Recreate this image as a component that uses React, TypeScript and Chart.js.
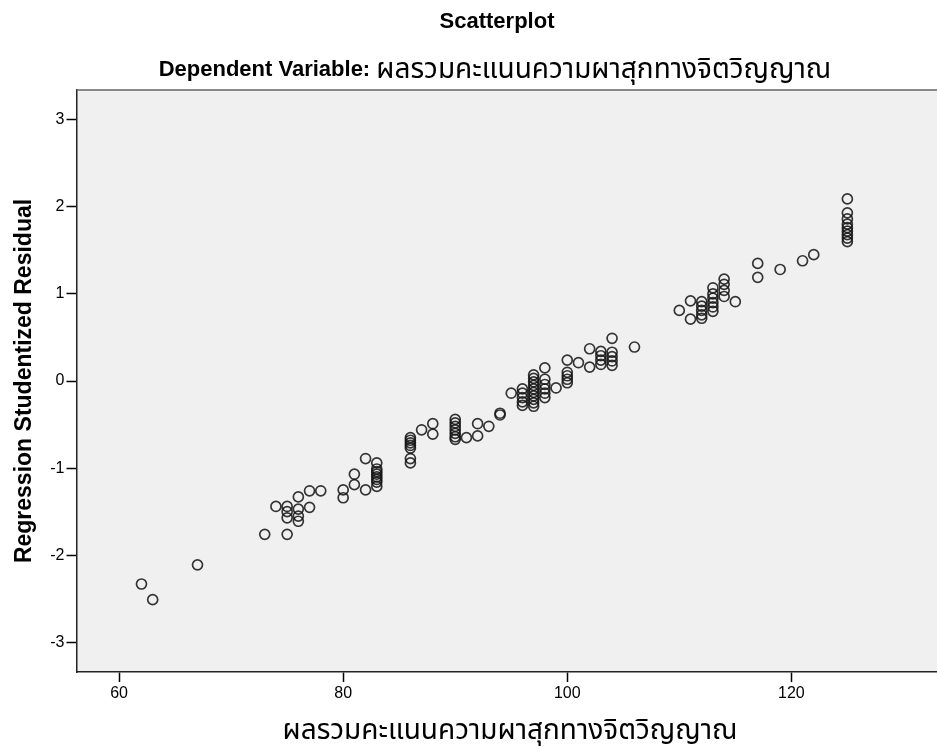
import React, { useEffect, useRef } from "react";
import { Chart, registerables } from "chart.js";

Chart.register(...registerables);

const chartTitle = "Scatterplot";
const subtitleLead = "Dependent Variable: ";
const dependentName = "ผลรวมคะแนนความผาสุกทางจิตวิญญาณ";
const yAxisTitle = "Regression Studentized Residual";
const xAxisTitle = "ผลรวมคะแนนความผาสุกทางจิตวิญญาณ";

const xTickValues = [60, 80, 100, 120];
const yTickValues = [-3, -2, -1, 0, 1, 2, 3];

// total score (x) and studentized residual (y), paired by index
const scoreValues = [
  62, 63, 67, 73, 74,
  75, 75, 75, 75,
  76, 76, 76, 76,
  77, 77, 78,
  80, 80, 81, 81, 82, 82,
  83, 83, 83, 83, 83, 83, 83, 83,
  86, 86, 86, 86, 86, 86, 86,
  87, 88, 88,
  90, 90, 90, 90, 90, 90, 90,
  91, 92, 92, 93, 94, 94, 95,
  96, 96, 96, 96, 96,
  97, 97, 97, 97, 97, 97, 97, 97, 97, 97,
  98, 98, 98, 98, 98, 98,
  99,
  100, 100, 100, 100, 100,
  101, 102, 102,
  103, 103, 103, 103,
  104, 104, 104, 104, 104,
  106, 110, 111, 111,
  112, 112, 112, 112, 112,
  113, 113, 113, 113, 113, 113,
  114, 114, 114, 114,
  115, 117, 117, 119, 121, 122,
  125, 125, 125, 125, 125, 125, 125, 125, 125,
];

const residualValues = [
  -2.33, -2.51, -2.11, -1.76, -1.44,
  -1.44, -1.5, -1.57, -1.76,
  -1.33, -1.47, -1.55, -1.61,
  -1.26, -1.45, -1.26,
  -1.25, -1.34, -1.07, -1.19, -0.89, -1.25,
  -0.94, -1.01, -1.04, -1.07, -1.1, -1.13, -1.16, -1.21,
  -0.65, -0.68, -0.71, -0.74, -0.77, -0.89, -0.94,
  -0.56, -0.49, -0.61,
  -0.44, -0.48, -0.52, -0.56, -0.6, -0.64, -0.67,
  -0.65, -0.49, -0.63, -0.52, -0.37, -0.39, -0.14,
  -0.09, -0.14, -0.19, -0.24, -0.28,
  0.07, 0.03, -0.01, -0.05, -0.09, -0.13, -0.17, -0.21, -0.25, -0.29,
  0.15, 0.02, -0.04, -0.09, -0.14, -0.19,
  -0.08,
  0.24, 0.1, 0.06, 0.02, -0.02,
  0.21, 0.37, 0.16,
  0.34, 0.29, 0.24, 0.19,
  0.49, 0.33, 0.28, 0.23, 0.18,
  0.39, 0.81, 0.92, 0.71,
  0.91, 0.86, 0.81, 0.76, 0.72,
  1.07, 1.0, 0.95, 0.9, 0.85, 0.8,
  1.17, 1.11, 1.04, 0.97,
  0.91, 1.35, 1.19, 1.28, 1.38, 1.45,
  2.09, 1.93, 1.86, 1.8, 1.76, 1.72, 1.68, 1.64, 1.6,
];

const FONT = "'Liberation Sans', Arial, 'Noto Sans Thai', 'Noto Sans', sans-serif";

const decorPlugin = {
  id: "decor",
  beforeDraw(chart: any) {
    const { ctx, chartArea: a } = chart;
    ctx.save();
    ctx.fillStyle = "#f0f0f0";
    ctx.fillRect(a.left, a.top, a.right - a.left, a.bottom - a.top);
    ctx.restore();
  },
  afterDraw(chart: any) {
    const { ctx, chartArea: a } = chart;
    ctx.save();
    ctx.strokeStyle = "#666";
    ctx.lineWidth = 1.5;
    ctx.beginPath();
    ctx.moveTo(a.left, a.top);
    ctx.lineTo(a.right, a.top);
    ctx.stroke();

    ctx.fillStyle = "#000";
    ctx.textBaseline = "middle";
    ctx.textAlign = "center";
    ctx.font = `bold 22px ${FONT}`;
    ctx.fillText(chartTitle, 497, 22);

    ctx.textAlign = "left";
    const leadFont = `bold 22px ${FONT}`;
    const nameFont = `28px ${FONT}`;
    ctx.font = leadFont;
    const w1 = ctx.measureText(subtitleLead).width;
    ctx.font = nameFont;
    const w2 = ctx.measureText(dependentName).width;
    const sx = 495 - (w1 + w2) / 2;
    ctx.font = leadFont;
    ctx.fillText(subtitleLead, sx, 70);
    ctx.font = nameFont;
    ctx.fillText(dependentName, sx + w1, 70);

    ctx.textAlign = "center";
    ctx.font = `28px ${FONT}`;
    ctx.fillText(xAxisTitle, 510, 731);

    ctx.translate(25, (a.top + a.bottom) / 2);
    ctx.rotate(-Math.PI / 2);
    ctx.font = `bold 23px ${FONT}`;
    ctx.fillText(yAxisTitle, 0, 0);
    ctx.restore();
  },
};

export default function App() {
  const ref = useRef<HTMLCanvasElement | null>(null);

  useEffect(() => {
    document.body.style.margin = "0";
    const canvas = ref.current;
    if (!canvas) return;
    const points = scoreValues.map((x, i) => ({ x, y: residualValues[i] }));
    const chart = new Chart(canvas, {
      type: "scatter",
      data: {
        datasets: [
          {
            data: points,
            pointStyle: "circle",
            pointRadius: 5,
            pointHoverRadius: 5,
            pointBorderWidth: 1.7,
            borderColor: "rgba(20,20,20,0.85)",
            backgroundColor: "rgba(0,0,0,0)",
            pointBackgroundColor: "rgba(0,0,0,0)",
            pointBorderColor: "rgba(20,20,20,0.85)",
          },
        ],
      },
      options: {
        responsive: false,
        animation: false,
        layout: { autoPadding: false, padding: { top: 90, left: 0, right: 0, bottom: 0 } },
        plugins: {
          legend: { display: false },
          tooltip: { enabled: false },
          title: { display: false },
        },
        scales: {
          x: {
            type: "linear",
            min: 56.2,
            max: 133,
            afterBuildTicks: (s: any) => {
              s.ticks = xTickValues.map((v) => ({ value: v }));
            },
            afterFit: (s: any) => {
              s.height = 77;
            },
            grid: {
              drawOnChartArea: false,
              drawTicks: true,
              tickLength: 10,
              tickColor: "#000",
              tickWidth: 1.5,
            },
            border: { color: "#222", width: 1.5 },
            ticks: {
              color: "#000",
              font: { family: FONT, size: 16 },
              padding: 2,
              maxRotation: 0,
              callback: (v: any) => String(v),
            },
          },
          y: {
            type: "linear",
            min: -3.34,
            max: 3.34,
            afterBuildTicks: (s: any) => {
              s.ticks = yTickValues.map((v) => ({ value: v }));
            },
            afterFit: (s: any) => {
              s.width = 76.5;
            },
            grid: {
              drawOnChartArea: false,
              drawTicks: true,
              tickLength: 10,
              tickColor: "#000",
              tickWidth: 1.5,
            },
            border: { color: "#222", width: 1.5 },
            ticks: {
              color: "#000",
              font: { family: FONT, size: 16 },
              padding: 2,
              callback: (v: any) => String(v),
            },
          },
        },
      },
      plugins: [decorPlugin],
    });
    return () => chart.destroy();
  }, []);

  return (
    <div style={{ position: "absolute", left: 0, top: 0, width: 937, height: 749, background: "#fff" }}>
      <canvas ref={ref} width={937} height={749} style={{ width: 937, height: 749 }} />
    </div>
  );
}
